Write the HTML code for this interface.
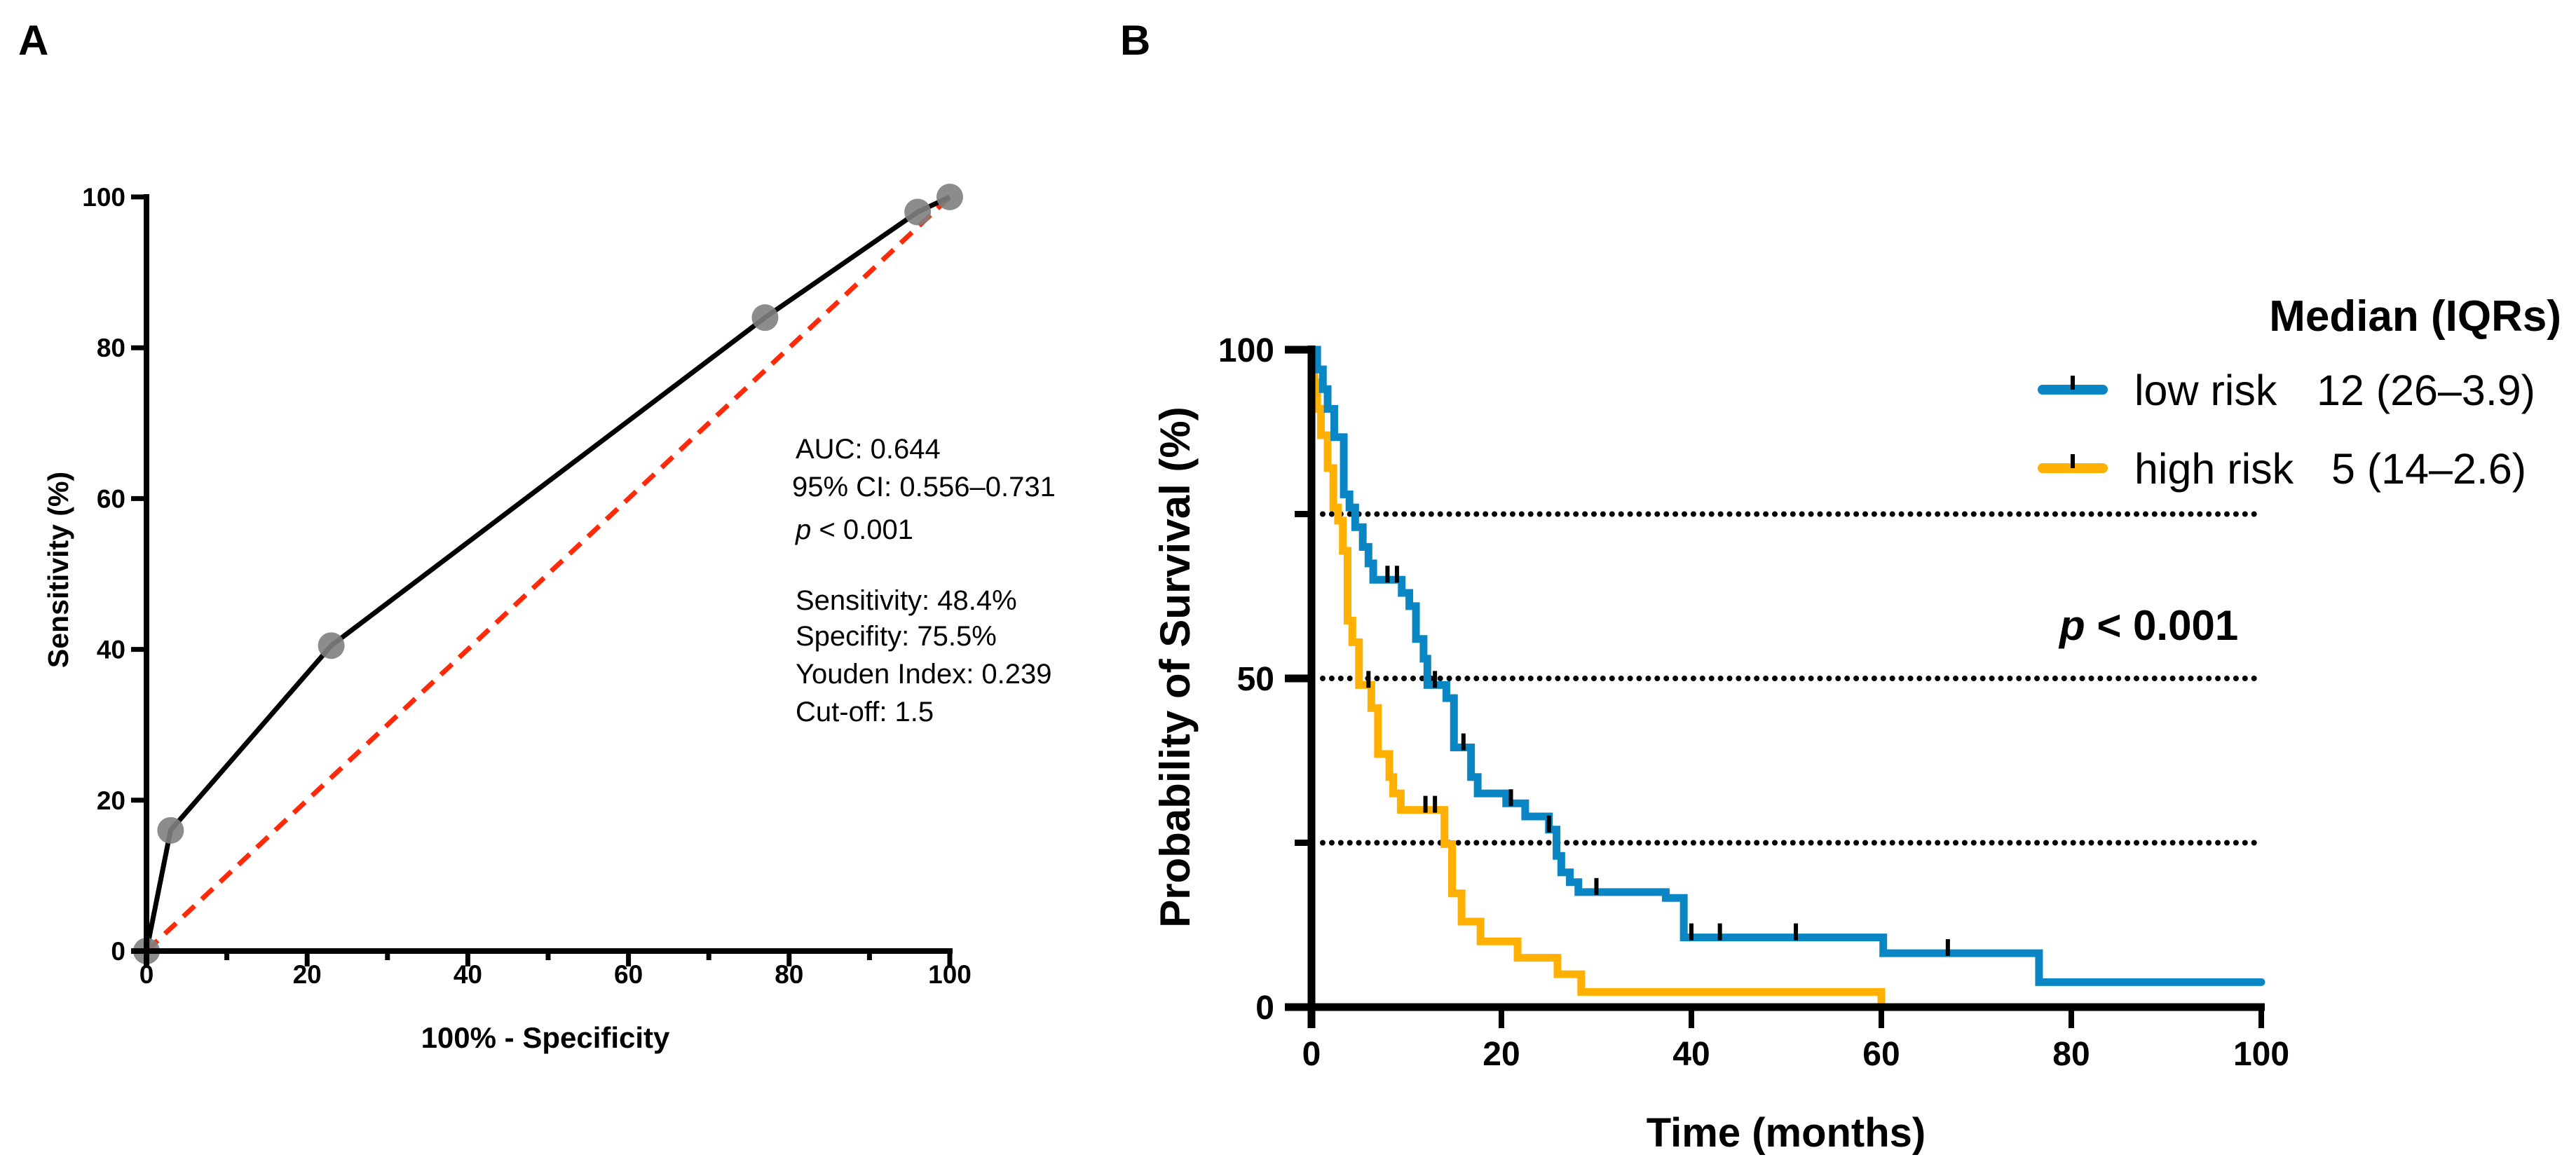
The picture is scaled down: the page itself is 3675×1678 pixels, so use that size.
<!DOCTYPE html>
<html><head><meta charset="utf-8">
<style>
html,body{margin:0;padding:0;background:#fff;}
svg{display:block;font-family:"Liberation Sans",Arial,sans-serif;}
</style></head>
<body>
<svg id="fig" width="3675" height="1678" viewBox="0 0 3675 1678" xmlns="http://www.w3.org/2000/svg">
<rect width="3675" height="1678" fill="#fff"/>
<text x="26" y="78" font-size="60" font-weight="bold">A</text>
<text x="1598" y="78" font-size="60" font-weight="bold">B</text>
<g id="pa"></g>
<g id="pb"></g>
</svg>
<script>
// ROC data
const rocX = [0, 3, 23, 77, 96, 100];
const rocY = [0, 16, 40.5, 84, 98, 100];
const rocTicks = [0, 20, 40, 60, 80, 100];
const rocMinor = [10, 30, 50, 70, 90];
const rocNotes = ["AUC: 0.644", "95% CI: 0.556\u20130.731", "p < 0.001", "", "Sensitivity: 48.4%", "Specifity: 75.5%", "Youden Index: 0.239", "Cut-off: 1.5"];

// KM data
const lowTimes = [0.6, 1.2, 1.7, 2.4, 3.4, 4.0, 4.6, 5.4, 6.0, 6.5, 9.5, 10.3, 11.0, 11.8, 12.2, 14.2, 15.0, 16.8, 17.5, 20.5, 22.5, 25.0, 25.8, 26.3, 27.2, 28.1, 37.3, 39.2, 60.2, 76.6];
const lowSurv = [97, 94, 91, 86.7, 78, 76, 73, 70, 67.5, 65, 63, 61, 56, 53, 49, 47, 39.5, 35, 32.5, 31, 29, 27, 23, 20.5, 19, 17.5, 16.6, 10.6, 8.2, 3.8];
const lowEnd = 100;
const lowCensor = [8, 9, 13, 16, 21, 25, 30, 40, 43, 51, 67];
const highTimes = [0.3, 0.6, 1.0, 1.7, 2.3, 2.8, 3.3, 3.8, 4.3, 5.0, 6.3, 7.0, 8.2, 8.6, 9.4, 14.0, 14.8, 15.8, 17.8, 21.7, 25.9, 28.4, 60];
const highSurv = [95, 91, 87, 82, 76, 74, 69.4, 58.8, 55.5, 49, 45.5, 38.5, 35, 32.5, 30, 24.8, 17.3, 13, 10, 7.5, 5, 2.3, 0];
const highEnd = 60;
const highCensor = [6, 12, 13];
const kmYTicks = [0, 50, 100];
const kmYMinor = [25, 75];
const kmXTicks = [0, 20, 40, 60, 80, 100];
const refLines = [75, 50, 25];

const NS = "http://www.w3.org/2000/svg";
function mk(parent, tag, attrs, txt) {
  const e = document.createElementNS(NS, tag);
  for (const k in attrs) e.setAttribute(k, attrs[k]);
  if (txt !== undefined) e.textContent = txt;
  parent.appendChild(e);
  return e;
}

// ---------- Panel A ----------
const pa = document.getElementById('pa');
const ax = v => 209 + (v / 100) * (1355 - 209);
const ay = v => 1357 - (v / 100) * (1357 - 281);

let el = mk(pa, 'line', {x1: ax(0), y1: ay(0), x2: ax(100), y2: ay(100), stroke: '#ff2a0a', 'stroke-width': 7, 'stroke-dasharray': '22 14'});



let d = rocX.map((v, i) => (i ? 'L' : 'M') + ax(v) + ' ' + ay(rocY[i])).join(' ');
el = mk(pa, 'path', {d: d, fill: 'none', stroke: '#000', 'stroke-width': 7, 'stroke-linejoin': 'round'});


rocX.forEach((v, i) => {
  const c = mk(pa, 'circle', {cx: ax(v), cy: ay(rocY[i]), r: 19, fill: '#7f7f7f', 'fill-opacity': 0.9});
  
  
});

el = mk(pa, 'line', {x1: ax(0), y1: ay(100) - 4, x2: ax(0), y2: ay(0) + 22, stroke: '#000', 'stroke-width': 8});


el = mk(pa, 'line', {x1: ax(0) - 22, y1: ay(0), x2: ax(100) + 4, y2: ay(0), stroke: '#000', 'stroke-width': 8});


rocTicks.forEach(t => {
  mk(pa, 'line', {x1: ax(0) - 22, y1: ay(t), x2: ax(0), y2: ay(t), stroke: '#000', 'stroke-width': 7});
  mk(pa, 'line', {x1: ax(t), y1: ay(0), x2: ax(t), y2: ay(0) + 22, stroke: '#000', 'stroke-width': 7});
  el = mk(pa, 'text', {x: ax(0) - 30, y: ay(t) + 13, 'font-size': 37, 'font-weight': 'bold', 'text-anchor': 'end'}, String(t));
  
  
  el = mk(pa, 'text', {x: ax(t), y: 1403, 'font-size': 37, 'font-weight': 'bold', 'text-anchor': 'middle'}, String(t));
  
  
});
rocMinor.forEach(t => {
  mk(pa, 'line', {x1: ax(t), y1: ay(0), x2: ax(t), y2: ay(0) + 13, stroke: '#000', 'stroke-width': 7});
});
el = mk(pa, 'text', {x: 778, y: 1495, 'font-size': 42, 'font-weight': 'bold', 'text-anchor': 'middle'}, '100% - Specificity');


el = mk(pa, 'text', {x: 0, y: 0, 'font-size': 41, 'font-weight': 'bold', 'text-anchor': 'middle', transform: 'translate(97,813) rotate(-90)'}, 'Sensitivity (%)');



const noteY = [654, 708, 769, 0, 870, 921, 975, 1029];
rocNotes.forEach((s, i) => {
  if (!s) return;
  const t = mk(pa, 'text', {x: i === 1 ? 1130 : 1135, y: noteY[i], 'font-size': 40});
  
  
  if (s.startsWith('p <')) {
    mk(t, 'tspan', {'font-style': 'italic'}, 'p');
    mk(t, 'tspan', {}, s.slice(1));
  } else t.textContent = s;
});

// ---------- Panel B ----------
const pb = document.getElementById('pb');
const bx = v => 1871 + (v / 100) * (3226 - 1871);
const by = v => 1437 - (v / 100) * (1437 - 499);

refLines.forEach(r => {
  el = mk(pb, 'line', {x1: bx(0) + 16, y1: by(r), x2: bx(100), y2: by(r), stroke: '#000', 'stroke-width': 8, 'stroke-linecap': 'round', 'stroke-dasharray': '0 12.9'});
  
  
});

function stepPath(times, surv, end) {
  let p = 'M' + bx(0) + ' ' + by(100);
  times.forEach((t, i) => { p += ' H' + bx(t) + ' V' + by(surv[i]); });
  p += ' H' + bx(end);
  return p;
}
function survAt(times, surv, t) {
  let s = 100;
  times.forEach((tt, i) => { if (tt <= t) s = surv[i]; });
  return s;
}
function drawSeries(times, surv, end, cens, color, name) {
  const p = mk(pb, 'path', {d: stepPath(times, surv, end), fill: 'none', stroke: color, 'stroke-width': 11, 'stroke-linejoin': 'miter', 'stroke-linecap': 'round'});
  
  
  cens.forEach(t => {
    const y = by(survAt(times, surv, t));
    const c = mk(pb, 'line', {x1: bx(t), y1: y - 20, x2: bx(t), y2: y + 4, stroke: '#000', 'stroke-width': 6});
    
    
  });
}
drawSeries(highTimes, highSurv, highEnd, highCensor, '#ffb000', 'high-risk');
drawSeries(lowTimes, lowSurv, lowEnd, lowCensor, '#0a86c4', 'low-risk');

el = mk(pb, 'line', {x1: bx(0), y1: by(100) - 6, x2: bx(0), y2: by(0) + 30, stroke: '#000', 'stroke-width': 11});


el = mk(pb, 'line', {x1: bx(0) - 38, y1: by(0), x2: bx(100) + 5, y2: by(0), stroke: '#000', 'stroke-width': 11});


kmYTicks.forEach(t => {
  mk(pb, 'line', {x1: bx(0) - 38, y1: by(t), x2: bx(0), y2: by(t), stroke: '#000', 'stroke-width': 11});
  el = mk(pb, 'text', {x: 1818, y: by(t) + 17, 'font-size': 48, 'font-weight': 'bold', 'text-anchor': 'end'}, String(t));
  
  
});
kmYMinor.forEach(t => {
  mk(pb, 'line', {x1: bx(0) - 24, y1: by(t), x2: bx(0), y2: by(t), stroke: '#000', 'stroke-width': 9});
});
kmXTicks.forEach(t => {
  mk(pb, 'line', {x1: bx(t), y1: by(0), x2: bx(t), y2: by(0) + 30, stroke: '#000', 'stroke-width': 8});
  el = mk(pb, 'text', {x: bx(t), y: 1520, 'font-size': 48, 'font-weight': 'bold', 'text-anchor': 'middle'}, String(t));
  
  
});
el = mk(pb, 'text', {x: 2548, y: 1636, 'font-size': 58, 'font-weight': 'bold', 'text-anchor': 'middle'}, 'Time (months)');


el = mk(pb, 'text', {x: 0, y: 0, 'font-size': 60, 'font-weight': 'bold', 'text-anchor': 'middle', transform: 'translate(1697,952) rotate(-90)'}, 'Probability of Survival (%)');



el = mk(pb, 'text', {x: 2938, y: 913, 'font-size': 60, 'font-weight': 'bold'});


mk(el, 'tspan', {'font-style': 'italic'}, 'p');
mk(el, 'tspan', {}, ' < 0.001');

el = mk(pb, 'text', {x: 3654, y: 472, 'font-size': 62, 'font-weight': 'bold', 'text-anchor': 'end'}, 'Median (IQRs)');


const legRows = [
  {c: '#0a86c4', y: 556, ty: 578, name: 'low risk', med: '12 (26\u20133.9)', medX: 3305, key: 'low'},
  {c: '#ffb000', y: 668, ty: 690, name: 'high risk', med: '5 (14\u20132.6)', medX: 3326, key: 'high'}
];
legRows.forEach(r => {
  const g = mk(pb, 'g', {});
  
  
  mk(g, 'line', {x1: 2914, y1: r.y, x2: 3000, y2: r.y, stroke: r.c, 'stroke-width': 14, 'stroke-linecap': 'round'});
  mk(g, 'line', {x1: 2957, y1: r.y - 20, x2: 2957, y2: r.y, stroke: '#000', 'stroke-width': 6});
  mk(g, 'text', {x: 3045, y: r.ty, 'font-size': 61}, r.name);
  mk(g, 'text', {x: r.medX, y: r.ty, 'font-size': 61}, r.med);
});
</script>
</body></html>
